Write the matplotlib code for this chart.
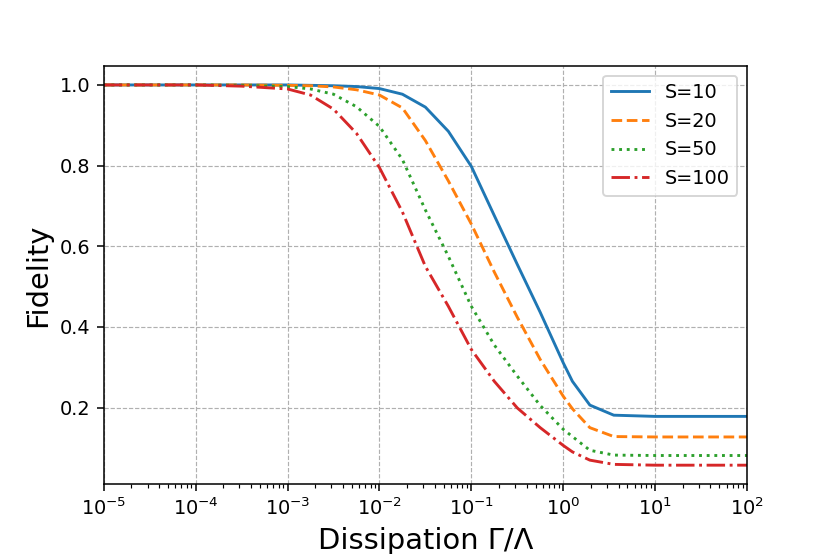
import numpy as np
import matplotlib
matplotlib.use("Agg")
import matplotlib.pyplot as plt

log_gamma = [-5, -4, -3.5, -3, -2.75, -2.5, -2.25, -2, -1.75, -1.5, -1.25, -1,
             -0.75, -0.5, -0.25, 0, 0.1, 0.29, 0.55, 1, 1.5, 2]
gamma = [10.0 ** v for v in log_gamma]

fid_s10 = [1.0, 1.0, 1.0, 1.0, 0.999, 0.998, 0.996, 0.991, 0.977, 0.945, 0.885, 0.798,
           0.676, 0.555, 0.436, 0.311, 0.265, 0.206, 0.181, 0.178, 0.178, 0.178]
fid_s20 = [1.0, 1.0, 1.0, 0.999, 0.998, 0.995, 0.988, 0.975, 0.943, 0.862, 0.762, 0.655,
           0.536, 0.424, 0.319, 0.228, 0.197, 0.150, 0.128, 0.127, 0.127, 0.127]
fid_s50 = [1.0, 1.0, 0.999, 0.996, 0.990, 0.977, 0.946, 0.897, 0.815, 0.690, 0.575, 0.451,
           0.355, 0.278, 0.205, 0.146, 0.128, 0.094, 0.082, 0.081, 0.081, 0.081]
fid_s100 = [1.0, 1.0, 0.997, 0.990, 0.975, 0.940, 0.880, 0.795, 0.685, 0.550, 0.451, 0.344,
            0.265, 0.199, 0.150, 0.106, 0.090, 0.0695, 0.059, 0.057, 0.057, 0.057]

labels = ["S=10", "S=20", "S=50", "S=100"]

DPI = 138.4
fig = plt.figure(figsize=(830 / DPI, 554 / DPI), dpi=DPI)
ax = fig.add_axes([0.125, 0.126, 0.775, 0.755])

ax.plot(gamma, fid_s10, color="#1f77b4", linestyle="-", label=labels[0])
ax.plot(gamma, fid_s20, color="#ff7f0e", linestyle="--", label=labels[1])
ax.plot(gamma, fid_s50, color="#2ca02c", linestyle=":", label=labels[2])
ax.plot(gamma, fid_s100, color="#d62728", linestyle="-.", label=labels[3])

ax.set_xscale("log")
ax.set_xlim(1e-5, 1e2)
ax.set_yticks([0.2, 0.4, 0.6, 0.8, 1.0])
ax.grid(True, which="major", linestyle="--", color="#b0b0b0", linewidth=0.6)
ax.set_xlabel("Dissipation Γ/Λ", fontsize=15)
ax.set_ylabel("Fidelity", fontsize=15)
ax.legend(loc="upper right")

fig.savefig("out.png", dpi=DPI)
